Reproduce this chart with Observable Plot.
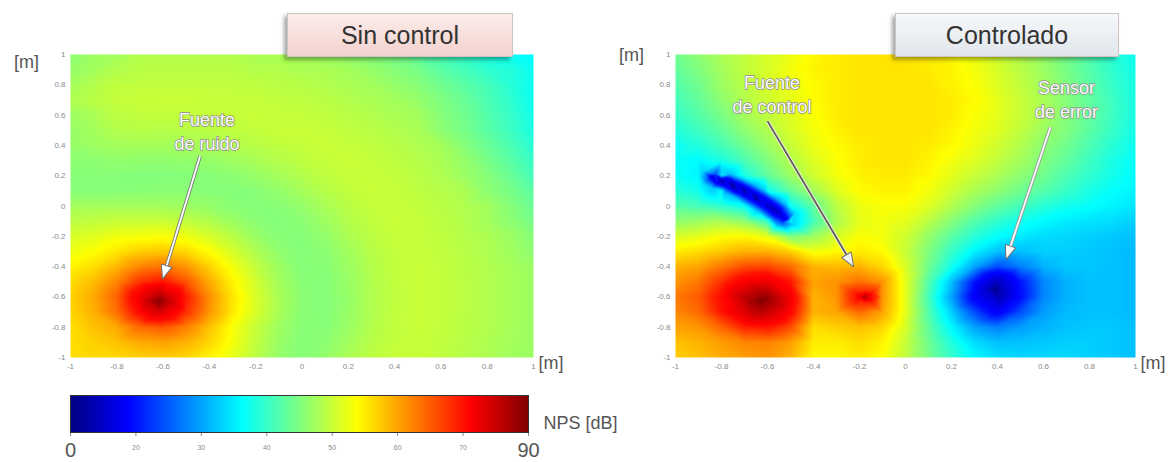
<!DOCTYPE html>
<html>
<head>
<meta charset="utf-8">
<script src="https://cdn.jsdelivr.net/npm/d3@7"></script>
<script src="https://cdn.jsdelivr.net/npm/@observablehq/plot@0.6"></script>
<style>
  html, body { margin: 0; padding: 0; background: #fff; }
  body { width: 1171px; height: 462px; overflow: hidden; position: relative; font-family: "Liberation Sans", Arial, sans-serif; }
  .abs { position: absolute; }
  .title { position: absolute; top: 13px; height: 42px; line-height: 42px; text-align: center; font-size: 25px; color: #333;
           border: 1px solid #cfc4c2; box-shadow: -3px 3px 4px rgba(0,0,0,0.35); z-index: 5; }
</style>
</head>
<body>
<div id="left" class="abs" style="left:0;top:0"></div>
<div id="right" class="abs" style="left:585px;top:0"></div>
<div id="bar" class="abs" style="left:0;top:385px"></div>
<div class="title" style="left:287px;width:224px;background:linear-gradient(#fcecea,#f2d2ce);">Sin control</div>
<div class="title" style="left:895px;width:222px;background:linear-gradient(#f6f8fa,#e0e6ec);">Controlado</div>
<script>
// ---------- data ----------
const gridX = [-1,-0.9,-0.8,-0.7,-0.6,-0.5,-0.4,-0.3,-0.2,-0.1,0,0.1,0.2,0.3,0.4,0.5,0.6,0.7,0.8,0.9,1];
const gridY = [1,0.9,0.8,0.7,0.6,0.5,0.4,0.3,0.2,0.1,0,-0.1,-0.2,-0.3,-0.4,-0.5,-0.6,-0.7,-0.8,-0.9,-1];
const axisTicks = [-1,-0.8,-0.6,-0.4,-0.2,0,0.2,0.4,0.6,0.8,1];
const dbTicks = [0,20,30,40,50,60,70,90];

// NPS [dB] read from "Sin control" (rows: y = 1 … -1, columns: x = -1 … 1)
const sinControl = [
  [46,47,47.5,48.5,48.5,48.5,48.5,48.5,48,48,47.5,47,46.5,45.5,44.5,42.5,41,39.5,38,37,36],
  [46.5,47.5,48.5,49,49,49,49,49,48.5,48.5,48,48,47.5,46.5,45.5,44.5,42.5,41,39.5,38.5,37],
  [47.5,48.5,49.5,49.5,49.5,49.5,49.5,49.5,49.3,49,48.8,48.4,48,47.5,46.5,45.5,44,42.5,41,39,37],
  [48.3,49,49.8,50,50,50,49.9,49.9,49.8,49.5,49.3,49,48.5,48,47.5,46.5,45,43.5,41.5,39.5,37],
  [47,48,49.2,49.5,49.6,49.7,49.8,49.9,50,49.9,49.7,49.4,49,48.5,48,47.5,45.5,44,42,40,37.5],
  [46.5,47.5,48.5,48.8,48.7,48.8,49.1,49.4,49.6,50,50,49.8,49.4,49,48.5,48,46,44.5,42.5,40.5,38],
  [46.5,47,47.5,47.6,47.6,47.7,48,48.5,48.9,49.4,49.8,50,49.8,49.4,48.9,48.4,47.5,45.5,43.5,41.5,39],
  [46,46,46.3,46.2,46.2,46.3,46.6,47.2,47.9,48.6,49.3,49.8,50,49.7,49.3,48.7,48,46.5,44.5,42.5,40],
  [45.5,45.5,45.5,45.3,45.3,45.4,45.5,45.9,46.7,47.6,48.5,49.4,49.9,49.9,49.6,49,48.3,47,45.5,43.5,41],
  [45.5,45.4,45.5,45.7,45.8,45.7,45.5,45.3,45.6,46.4,47.6,48.7,49.5,50,49.8,49.3,48.7,48,46,44.5,42.5],
  [47.5,47.5,47.5,47.5,47.4,47,46.4,45.8,45.4,45.6,46.6,47.9,49,49.8,49.9,49.6,49,48.4,47.5,45.5,43.5],
  [49,49.5,50,50,50,49.5,48.5,47,45.8,45.3,45.8,47.1,48.5,49.5,50,49.8,49.2,48.5,47.5,46,44.5],
  [51,51.6,52.7,53,53.4,52.6,51,49,46.9,45.6,45.4,46.4,48,49.2,49.9,49.9,49.4,48.7,48.2,47,45.5],
  [52.4,53.7,55.3,57,57.6,56.2,53.8,51,48.3,46.2,45.4,45.9,47.4,48.8,49.7,49.9,49.5,48.9,48.3,47.3,46],
  [54.4,56,58.6,62.2,63.3,61,56.9,53,49.6,47,45.5,45.6,47,48.5,49.6,50,49.6,49,48.4,47.7,47],
  [56,58.3,62,67.7,70,65.5,59.6,54.5,50.6,47.5,45.7,45.4,46.8,48.4,49.5,50,49.7,49.1,48.4,47.8,47],
  [56.8,59.6,64.5,74.2,82.2,69.6,61.5,55.5,51.2,47.9,45.8,45.4,46.6,48.3,49.4,50,49.7,49.1,48.4,47.8,47],
  [56.6,59.2,63.6,71.4,76.3,68.1,61,55.2,51,47.8,45.8,45.4,46.7,48.3,49.5,50,49.7,49.1,48.4,47.8,47],
  [56,58,59.7,64,65.3,62.4,57.9,53.4,49.9,47.1,45.6,45.5,46.9,48.5,49.5,50,49.6,49,48.4,47.7,47],
  [56,57,58,59.6,60.2,59,56.5,53,49.5,46.8,45.5,45.9,47.4,48.8,49.7,49.9,49.5,48.9,48.3,47.6,47],
  [56,56.5,56.5,57,57.2,56.5,54.5,52,49,46.5,45.5,46.4,48,49.2,49.9,49.9,49.4,48.7,48.2,47.3,46.8]
];
// extra samples at the noise source
const sinExtraX = [-0.62,-0.57,-0.67,-0.62,-0.62];
const sinExtraY = [-0.63,-0.63,-0.63,-0.58,-0.68];
const sinExtraV = [89,80,80,80,80];

// NPS [dB] read from "Controlado"
const controlado = [
  [44,46,48,49.5,51,52.5,54,55,55.5,55.5,55.5,55,54,52.5,50.5,48.5,46.5,44,41.5,39,37],
  [43,45,47.5,49.5,51,53,54.5,55,55.5,55.5,55.5,55,54.5,53,51,49,47,44.5,42,39.5,37.5],
  [42,44,47,49,51,52.5,54,55,55.5,55.5,55.5,55.5,54.5,53.5,51.5,49.5,47.5,45,42.5,40,38],
  [41,43,46,48.5,50.5,52,54,55,55.5,55.5,55.5,55.5,55,54,52,50,48,45.5,43,40.5,38],
  [40,42,44.5,47.5,49.5,51.5,53.5,55,55.5,55.5,55.5,55.5,55,53.5,52,50,48,45.5,43,40.5,38],
  [38.5,40.5,43,46,48.5,51,53,54.5,55.5,55.5,55.5,55.5,54.5,53,51.5,49.5,47,45,42.5,40,37.5],
  [37,38.5,41,44,47,50,52.5,54,55,55.5,55.5,55,54,52.5,50.5,48.5,46,44,41.5,39,37],
  [36.5,36,38,41.5,45,48.5,51.5,53.5,55,55.5,55.5,54.5,53,51.5,49.5,47.5,45,43,40.5,38,36.5],
  [37,35.5,34,38,43,47,50.5,53,54.5,55,55,54,52,50,48,46,44,41.5,39.5,37.5,36],
  [39,37.5,36,6,37,43,47.5,51.5,54,54.5,54.5,53,50.5,48,46,44,42,40,38,36.5,35.5],
  [42,41,39.5,37,10,37,43,49,52.5,53.5,53.5,51.5,48.5,45.5,43,41,39,37.5,36.5,35.5,34.5],
  [46,47,48,46,40,36,41,48,52,53,52,49,45.5,42,39.5,37.5,36,35,34.5,34,33],
  [51,52,53.5,54,52,45,47,51,53.5,53,50.5,46.5,42.5,39,36.5,35,34,33.5,33,32.5,32],
  [55,56,57.5,59,59,57,53,54,55,54,50,45,40,35.5,32,32,33,33,32.5,32,31.5],
  [59,60,63,66,66.5,64,59,58.5,59,56.5,51,44,37.5,30,24,27.5,31,32.5,32.5,32,31.5],
  [61,63,68,73,75,70,60,61,63.5,61,52,42,32,20,9,20,28,31,32,32,31.5],
  [63,65,71,81,86,74,59,61,74,61,52,41,30,17,7,19,28,31,32,32,31.5],
  [62,64,70,77,80,72,59,60,64,60,52,42,33,24,17,24,29.5,31.5,32,32,31.5],
  [60,61,64.5,69,70,66,56,57,58,56.5,51,43,36,30,27.5,29.5,31,32,32.5,32.5,32],
  [58,59,60.5,62,62.5,60.5,55,55,56,54.5,50,44,38.5,34,32,32,32.5,33,33,32.5,32],
  [57,58,59.5,60.5,61,59,54,54,55,53.5,49.5,44.5,40,36,34,33.5,33.5,33.5,33,32.5,32]
];
// extra samples: noise source, control source, error sensor
const ctrlExtraX = [-0.63,-0.58,-0.68,-0.63,-0.63,
  -0.18,-0.12,-0.24,-0.18,-0.18,-0.14,-0.22,-0.14,-0.22,
  0.39,0.34,0.44,0.39,0.39];
const ctrlExtraY = [-0.63,-0.63,-0.63,-0.58,-0.68,
  -0.6,-0.6,-0.6,-0.56,-0.64,-0.57,-0.57,-0.63,-0.63,
  -0.55,-0.55,-0.55,-0.48,-0.62];
const ctrlExtraV = [90,84,84,84,84,
  82,68,68,68,68,69,69,69,69,
  2,12,12,12,12];
// interference streak of "Controlado": centre line, inner halo and outer halo samples
const streakX = [-0.84,-0.8,-0.75,-0.65,-0.56,-0.52,
  -0.824,-0.784,-0.734,-0.684,-0.634,-0.584,-0.544,-0.504,
  -0.856,-0.816,-0.766,-0.716,-0.666,-0.616,-0.576,-0.536,
  -0.80,-0.76,-0.71,-0.66,-0.61,-0.56,-0.52,-0.48,
  -0.88,-0.84,-0.79,-0.74,-0.69,-0.64,-0.60,-0.56,
  -0.88,-0.49];
const streakY = [0.19,0.165,0.135,0.055,-0.035,-0.09,
  0.209,0.184,0.154,0.119,0.074,0.029,-0.016,-0.071,
  0.171,0.146,0.116,0.081,0.036,-0.009,-0.054,-0.109,
  0.235,0.21,0.18,0.145,0.10,0.055,0.01,-0.045,
  0.145,0.12,0.09,0.055,0.01,-0.035,-0.08,-0.135,
  0.225,-0.125];
const streakV = [14,6,4,4,8,16,
  24,18,18,18,18,18,18,24,
  24,18,18,18,18,18,18,24,
  34,32,32,32,32,32,32,34,
  34,32,32,32,32,32,32,34,
  33,33];

const leftNotes = [{x: -0.41, y: 0.5, text: "Fuente\nde ruido"}];
const rightNotes = [{x: -0.58, y: 0.745, text: "Fuente\nde control"}, {x: 0.70, y: 0.71, text: "Sensor\nde error"}];
const leftArrows = [{x1: -0.44, y1: 0.33, x2: -0.6, y2: -0.47, shaft: "#ffffff", edge: "#7a7a7a"}];
const rightArrows = [
  {x1: -0.6, y1: 0.56, x2: -0.23, y2: -0.39, shaft: "#5c5c50", edge: "#f4f4f0"},
  {x1: 0.63, y1: 0.52, x2: 0.44, y2: -0.34, shaft: "#ffffff", edge: "#9a9a9a"}
];

// ---------- helpers ----------
function jet(t) {
  const c = v => Math.max(0, Math.min(1, v));
  const r = c(Math.min(4 * t - 1.5, -4 * t + 4.5));
  const g = c(Math.min(4 * t - 0.5, -4 * t + 3.5));
  const b = c(Math.min(4 * t + 0.5, -4 * t + 2.5));
  return `rgb(${Math.round(r * 255)},${Math.round(g * 255)},${Math.round(b * 255)})`;
}
const colorScale = {type: "linear", domain: dbTicks, interpolate: jet};
const fmt = d => String(d);
const NS = "http://www.w3.org/2000/svg";
const headMarker = (fill, edge) => (color, context) => {
  const doc = (context && context.document) || document;
  const m = doc.createElementNS(NS, "marker");
  m.setAttribute("viewBox", "-15 -8 18 16");
  m.setAttribute("markerWidth", 18);
  m.setAttribute("markerHeight", 16);
  m.setAttribute("markerUnits", "userSpaceOnUse");
  m.setAttribute("orient", "auto");
  m.setAttribute("overflow", "visible");
  const p = doc.createElementNS(NS, "path");
  p.setAttribute("d", "M-12,-5.5L2,0L-12,5.5Z");
  p.setAttribute("fill", fill);
  p.setAttribute("stroke", edge);
  p.setAttribute("stroke-width", "1");
  m.appendChild(p);
  return m;
};

function panel({values, samples, width, marginLeft, marginRight, notes, arrows, mTop}) {
  const pts = [];
  gridY.forEach((y, j) => gridX.forEach((x, i) => pts.push({x, y, v: values[j][i]})));
  samples.forEach(([xs, ys, vs]) => xs.forEach((x, k) => pts.push({x, y: ys[k], v: vs[k]})));
  const marks = [
    Plot.raster(pts, {x: "x", y: "y", fill: "v", interpolate: "barycentric"}),
    Plot.text(notes, {x: "x", y: "y", text: "text", fontSize: 18, lineHeight: 1.35, fill: "#fbfbfb",
      stroke: "#8c8c8c", strokeWidth: 1.4, paintOrder: "stroke", fontFamily: "Liberation Sans, Arial, sans-serif"})
  ];
  arrows.forEach(a => {
    marks.push(Plot.link([a], {x1: "x1", y1: "y1", x2: "x2", y2: "y2", stroke: a.edge, strokeWidth: 3.6}));
    marks.push(Plot.link([a], {x1: "x1", y1: "y1", x2: "x2", y2: "y2", stroke: a.shaft, strokeWidth: 1.8,
      markerEnd: headMarker(a.shaft === "#ffffff" ? "#ffffff" : "#f2f2ee", "#6e6e6e")}));
  });
  marks.push(Plot.text(["[m]"], {frameAnchor: "top-left", textAnchor: "middle", dx: -44, dy: mTop, fontSize: 18, fill: "#555"}));
  marks.push(Plot.text(["[m]"], {frameAnchor: "bottom-right", textAnchor: "start", dx: 5, dy: 11, fontSize: 18, fill: "#555"}));
  return Plot.plot({
    width, height: 385, marginLeft, marginRight, marginTop: 54, marginBottom: 28,
    style: {fontFamily: "Liberation Sans, Arial, sans-serif", fontSize: "8px", color: "#8a8a8a", background: "transparent"},
    x: {domain: [-1, 1], ticks: axisTicks, tickFormat: fmt, tickSize: 0, tickPadding: 6, label: null},
    y: {domain: [-1, 1], ticks: axisTicks, tickFormat: fmt, tickSize: 0, tickPadding: 5, label: null},
    color: colorScale,
    marks
  });
}

document.getElementById("left").append(panel({
  values: sinControl, samples: [[sinExtraX, sinExtraY, sinExtraV]],
  width: 585, marginLeft: 70, marginRight: 52, notes: leftNotes, arrows: leftArrows, mTop: 1
}));
document.getElementById("right").append(panel({
  values: controlado, samples: [[ctrlExtraX, ctrlExtraY, ctrlExtraV], [streakX, streakY, streakV]],
  width: 586, marginLeft: 90, marginRight: 36, notes: rightNotes, arrows: rightArrows, mTop: -6
}));

// ---------- colour bar ----------
const barLeft = 70, barRight = 528;
document.getElementById("bar").append(Plot.plot({
  width: 640, height: 77, marginLeft: barLeft, marginRight: 640 - barRight, marginTop: 10, marginBottom: 30,
  style: {fontFamily: "Liberation Sans, Arial, sans-serif", fontSize: "7px", color: "#8a8a8a", background: "transparent", overflow: "visible"},
  x: {type: "linear", domain: dbTicks, range: dbTicks.map((_, i) => barLeft + i * (barRight - barLeft) / (dbTicks.length - 1)),
      ticks: dbTicks, tickSize: 4, tickPadding: 9, tickFormat: d => (d === dbTicks[0] || d === dbTicks[dbTicks.length - 1]) ? "" : String(d), label: null},
  y: {domain: [0, 1], axis: null},
  color: colorScale,
  marks: [
    Plot.raster({fill: (x, y) => x, x1: dbTicks[0], x2: dbTicks[dbTicks.length - 1], y1: 0, y2: 1}),
    Plot.frame({stroke: "#333", strokeWidth: 1}),
    Plot.text([dbTicks[0], dbTicks[dbTicks.length - 1]], {x: d => d, y: 0, dy: 18, text: d => String(d), fontSize: 20, fill: "#555"}),
    Plot.text(["NPS [dB]"], {x: dbTicks[dbTicks.length - 1], y: 0.25, dx: 15, textAnchor: "start", fontSize: 18, fill: "#555"})
  ]
}));
</script>
</body>
</html>
